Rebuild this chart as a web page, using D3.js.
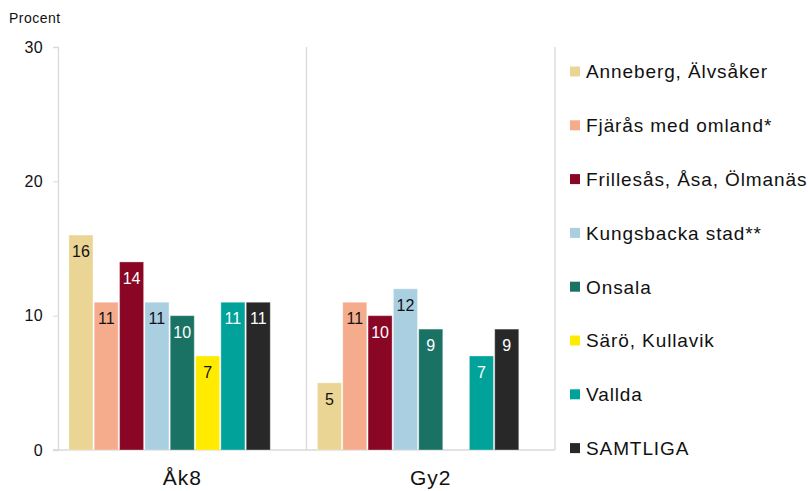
<!DOCTYPE html>
<html lang="sv">
<head>
<meta charset="utf-8">
<title>Procent per område</title>
<script src="https://d3js.org/d3.v7.min.js"></script>
<style>
  body { margin: 0; background: #fff; }
  text { font-family: "Liberation Sans", Arial, sans-serif; fill: #111; }
</style>
</head>
<body>
<div id="chart"></div>
<script>
// data
var categories = ["Åk8", "Gy2"];
var seriesNames = ["Anneberg, Älvsåker", "Fjärås med omland*", "Frillesås, Åsa, Ölmanäs",
  "Kungsbacka stad**", "Onsala", "Särö, Kullavik", "Vallda", "SAMTLIGA"];
var seriesColors = ["#ebd595", "#f5ac8d", "#8a0625", "#a9cfe1", "#1a7265", "#ffeb00", "#00a29a", "#282828"];
var labelColors = ["#111", "#111", "#fff", "#111", "#fff", "#111", "#fff", "#fff"];
// values per series: [Åk8, Gy2], null = no value
var anneberg   = [16, 5];
var fjaras     = [11, 11];
var frillesas  = [14, 10];
var kungsbacka = [11, 12];
var onsala     = [10, 9];
var saro       = [7, null];
var vallda     = [11, 7];
var samtliga   = [11, 9];
var yTicks = [0, 10, 20, 30];

var seriesValues = [anneberg, fjaras, frillesas, kungsbacka, onsala, saro, vallda, samtliga];

var W = 808, H = 491;
var margin = {top: 47, right: 253, bottom: 41, left: 58};

var svg = d3.select("#chart").append("svg")
  .attr("width", W)
  .attr("height", H);

var x0 = d3.scaleBand()
  .domain(categories)
  .range([margin.left, W - margin.right]);

// an extra empty slot at the end of each group (as in the original)
var x1 = d3.scaleBand()
  .domain(seriesNames.concat(["_tom"]))
  .range([0, x0.bandwidth()])
  .paddingInner(0.05)
  .paddingOuter(0.43);

var y = d3.scaleLinear()
  .domain([0, 30])
  .range([H - margin.bottom, margin.top]);

// separators between categories + right border
var sepX = categories.map(function(c) { return x0(c) + x0.bandwidth(); });
svg.selectAll("line.sep")
  .data(sepX)
  .enter().append("line")
  .attr("class", "sep")
  .attr("x1", function(d) { return d; })
  .attr("x2", function(d) { return d; })
  .attr("y1", y(30))
  .attr("y2", y(0))
  .attr("stroke", "#d9d9d9")
  .attr("stroke-width", 1.3);

// y axis
var yAxis = svg.append("g")
  .attr("transform", "translate(" + margin.left + ",0)")
  .call(d3.axisLeft(y).tickValues(yTicks).tickSize(5).tickPadding(10));
yAxis.select(".domain").attr("stroke", "#d9d9d9").attr("stroke-width", 1.3);
yAxis.selectAll(".tick line").attr("stroke", "#d9d9d9");
yAxis.selectAll(".tick text")
  .style("font-family", "'Liberation Sans', Arial, sans-serif")
  .style("font-size", "16px")
  .style("letter-spacing", "0.4px")
  .attr("fill", "#111");

// x axis
var xAxis = svg.append("g")
  .attr("transform", "translate(0," + y(0) + ")")
  .call(d3.axisBottom(x0).tickSize(0).tickPadding(20));
xAxis.select(".domain").attr("stroke", "#d9d9d9").attr("stroke-width", 1.3)
  .attr("d", "M" + (margin.left - 5) + ",0H" + (W - margin.right));
xAxis.selectAll(".tick text")
  .style("font-family", "'Liberation Sans', Arial, sans-serif")
  .style("font-size", "21px")
  .style("letter-spacing", "1px")
  .attr("fill", "#111");

// y title
svg.append("text")
  .attr("x", 9)
  .attr("y", 23)
  .style("font-size", "14px")
  .style("letter-spacing", "0.5px")
  .text("Procent");

// bars
var rows = [];
seriesNames.forEach(function(s, i) {
  categories.forEach(function(c, j) {
    var v = seriesValues[i][j];
    if (v != null) rows.push({series: s, idx: i, cat: c, value: v});
  });
});

svg.selectAll("rect.bar")
  .data(rows)
  .enter().append("rect")
  .attr("class", "bar")
  .attr("x", function(d) { return x0(d.cat) + x1(d.series); })
  .attr("y", function(d) { return y(d.value); })
  .attr("width", x1.bandwidth())
  .attr("height", function(d) { return y(0) - y(d.value); })
  .attr("fill", function(d) { return seriesColors[d.idx]; })
  .attr("stroke", "rgba(255,255,255,0.35)")
  .attr("stroke-width", 1);

svg.selectAll("text.lbl")
  .data(rows)
  .enter().append("text")
  .attr("class", "lbl")
  .attr("x", function(d) { return x0(d.cat) + x1(d.series) + x1.bandwidth() / 2; })
  .attr("y", function(d) { return y(d.value) + 22; })
  .attr("text-anchor", "middle")
  .style("font-size", "16px")
  .style("fill", function(d) { return labelColors[d.idx]; })
  .text(function(d) { return d.value; });

// legend
var legend = svg.append("g").attr("transform", "translate(570,0)");
var item = legend.selectAll("g")
  .data(seriesNames)
  .enter().append("g")
  .attr("transform", function(d, i) { return "translate(0," + (71.5 + i * 53.8) + ")"; });
item.append("rect")
  .attr("x", 0)
  .attr("y", -5)
  .attr("width", 10)
  .attr("height", 10)
  .attr("fill", function(d, i) { return seriesColors[i]; });
item.append("text")
  .attr("x", 16)
  .attr("y", 6.8)
  .style("font-size", "19px")
  .style("letter-spacing", "0.9px")
  .text(function(d) { return d; });
</script>
</body>
</html>
